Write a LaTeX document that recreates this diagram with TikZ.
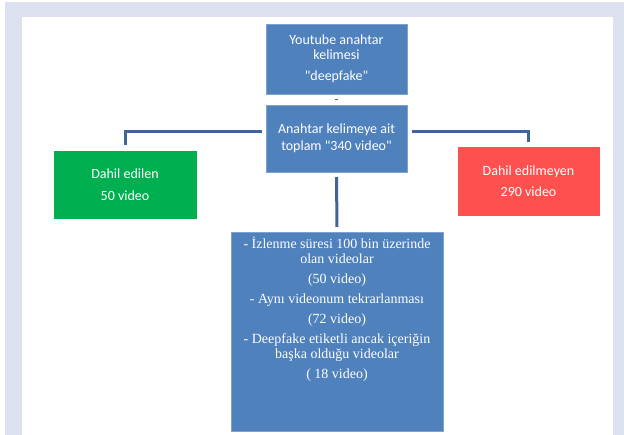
\documentclass[tikz,border=0pt]{standalone}
\usepackage{fontspec}
\setmainfont{Liberation Serif}
\newfontfamily\calib{Carlito}
\usepackage{xcolor}
\definecolor{frame}{HTML}{DDE1EF}
\definecolor{boxblue}{HTML}{4F81BD}
\definecolor{edgeblue}{HTML}{7FA2CE}
\definecolor{linkblue}{HTML}{3F6596}
\definecolor{okgreen}{HTML}{00B050}
\definecolor{nored}{HTML}{FF5050}
\usetikzlibrary{positioning,calc}

\begin{document}
\begin{tikzpicture}[
  x=1pt, y=-1pt,
  font=\calib\fontsize{14}{15.5}\selectfont,
  box/.style={draw=edgeblue, fill=boxblue, text=white, align=center,
              inner sep=2pt, minimum width=141pt, minimum height=68pt},
  link/.style={linkblue, line width=3pt}
]
  \useasboundingbox (0,0) rectangle (624,435);
  \fill[frame] (5,2) rectangle (624,435);
  \fill[white] (22,17) rectangle (613,435);

  \node[box, minimum height=70pt] (kw) at (336.5,59)
        {Youtube anahtar\\kelimesi\\[5.5pt]"deepfake"};
  \node[box, minimum height=67pt] (total) at (336.5,138.5)
        {Anahtar kelimeye ait\\[1.5pt]toplam "340 video"};
  \node[box, draw=okgreen, fill=okgreen, minimum width=142pt, minimum height=67pt] (incl) at (125,184.5)
        {Dahil edilen\\[6.5pt]50 video};
  \node[box, draw=nored, fill=nored] (excl) at (528.5,181)
        {Dahil edilmeyen\\[5.5pt]290 video};
  \node[box, minimum width=212pt, minimum height=199pt, inner sep=0pt] (crit) at (337,331.5)
        {\parbox[c][189pt][t]{210pt}{\centering\rmfamily\fontsize{14}{15}\selectfont
         - İzlenme süresi 100 bin üzerinde\\olan videolar\\[5pt]
         (50 video)\\[5pt]
         - Aynı videonum tekrarlanması\\[5pt]
         (72 video)\\[5pt]
         - Deepfake etiketli ancak içeriğin\\başka olduğu videolar\\[5pt]
         ( 18 video)}};

  \draw[link, shorten <=4.5pt, shorten >=4.5pt] (kw.south) -- (total.north);
  \draw[link, shorten <=4pt, shorten >=6pt] ([yshift=6.5pt]total.west) -| (incl.north);
  \draw[link, shorten <=5pt, shorten >=5pt] ([yshift=7pt]total.east) -| (excl.north);
  \draw[link, shorten <=5pt, shorten >=5pt] (total.south) -- (crit.north);
\end{tikzpicture}
\end{document}
